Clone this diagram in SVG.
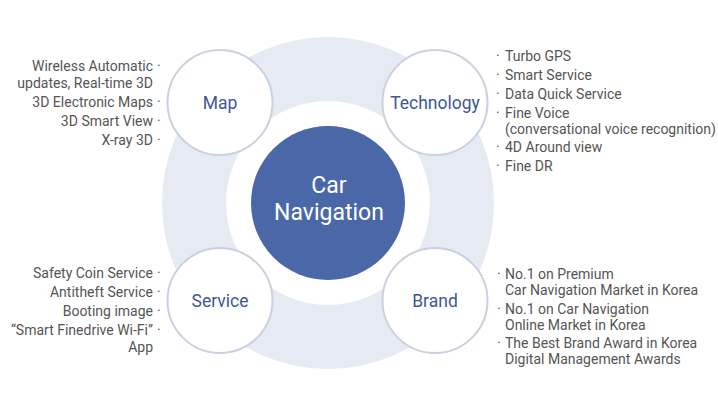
<svg xmlns="http://www.w3.org/2000/svg" width="718" height="401" viewBox="0 0 718 401">
<style>
.t{font-family:Roboto,"Liberation Sans",sans-serif;font-size:14px;fill:#555}
.e{text-anchor:end}
.lbl{font-family:Roboto,"Liberation Sans",sans-serif;font-size:17.5px;fill:#3d5894;text-anchor:middle}
.sat{fill:#fff;stroke:#c9d0e0;stroke-width:2}
.c{font-family:Roboto,"Liberation Sans",sans-serif;font-size:23px;fill:#fff;text-anchor:middle}
</style>
<rect width="718" height="401" fill="#fff"/>
<g id="ring">
<circle cx="328" cy="203" r="166" fill="#e5eaf3"/>
<circle cx="328" cy="203" r="102" fill="#fff"/>
</g>
<g id="center">
<circle cx="328" cy="203" r="77" fill="#4a68a8"/>
<text class="c" x="329" y="193">Car</text>
<text class="c" x="329" y="220">Navigation</text>
</g>
<g id="map">
<circle class="sat" cx="220" cy="102.5" r="52.5"/>
<text class="lbl" x="220" y="109">Map</text>
</g>
<g id="technology">
<circle class="sat" cx="435" cy="102.5" r="52.5"/>
<text class="lbl" x="435" y="109">Technology</text>
</g>
<g id="service">
<circle class="sat" cx="220" cy="300.5" r="52.5"/>
<text class="lbl" x="220" y="307">Service</text>
</g>
<g id="brand">
<circle class="sat" cx="435" cy="300.5" r="52.5"/>
<text class="lbl" x="435" y="307">Brand</text>
</g>
<g id="connectors"></g>
<g id="map-items">
<text class="t e" x="153" y="71">Wireless Automatic</text><text class="t" x="157" y="71">·</text>
<text class="t e" x="153" y="88">updates, Real-time 3D</text>
<text class="t e" x="153" y="107">3D Electronic Maps</text><text class="t" x="157" y="107">·</text>
<text class="t e" x="153" y="126">3D Smart View</text><text class="t" x="157" y="126">·</text>
<text class="t e" x="153" y="145">X-ray 3D</text><text class="t" x="157" y="145">·</text>
</g>
<g id="technology-items">
<text class="t" x="496" y="61">·</text><text class="t" x="505" y="61">Turbo GPS</text>
<text class="t" x="496" y="80">·</text><text class="t" x="505" y="80">Smart Service</text>
<text class="t" x="496" y="99">·</text><text class="t" x="505" y="99">Data Quick Service</text>
<text class="t" x="496" y="118">·</text><text class="t" x="505" y="118">Fine Voice</text>
<text class="t" x="505" y="134">(conversational voice recognition)</text>
<text class="t" x="496" y="152">·</text><text class="t" x="505" y="152">4D Around view</text>
<text class="t" x="496" y="171">·</text><text class="t" x="505" y="171">Fine DR</text>
</g>
<g id="service-items">
<text class="t e" x="153" y="278">Safety Coin Service</text><text class="t" x="157" y="278">·</text>
<text class="t e" x="153" y="297">Antitheft Service</text><text class="t" x="157" y="297">·</text>
<text class="t e" x="153" y="316">Booting image</text><text class="t" x="157" y="316">·</text>
<text class="t e" x="153" y="335">“Smart Finedrive Wi-Fi”</text><text class="t" x="157" y="335">·</text>
<text class="t e" x="153" y="352">App</text>
</g>
<g id="brand-items">
<text class="t" x="497" y="279">·</text><text class="t" x="505" y="279">No.1 on Premium</text>
<text class="t" x="505" y="295">Car Navigation Market in Korea</text>
<text class="t" x="497" y="314">·</text><text class="t" x="505" y="314">No.1 on Car Navigation</text>
<text class="t" x="505" y="330">Online Market in Korea</text>
<text class="t" x="497" y="348">·</text><text class="t" x="505" y="348">The Best Brand Award in Korea</text>
<text class="t" x="505" y="364">Digital Management Awards</text>
</g>
</svg>
